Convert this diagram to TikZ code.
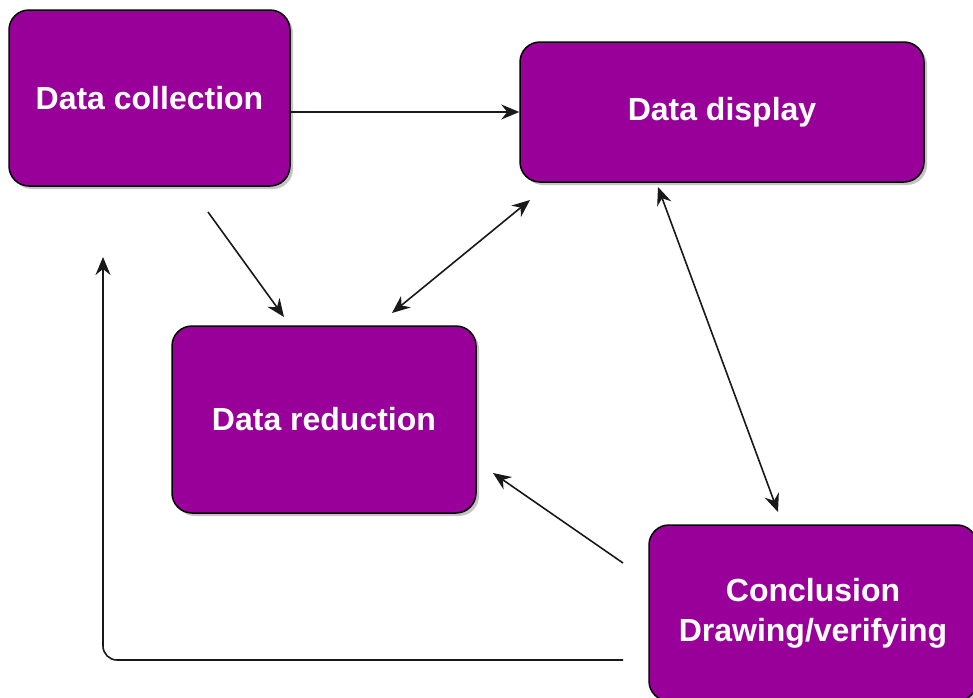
\documentclass[tikz,border=0pt]{standalone}
\usepackage{fontspec}
\setmainfont{Liberation Sans}
\usetikzlibrary{arrows.meta,shadows,calc}
\definecolor{procfill}{HTML}{990099}
\tikzset{
  procbox/.style={draw=black, line width=1.5pt, fill=procfill, rounded corners=20pt,
    text=white, font=\fontsize{32}{40}\selectfont\bfseries, align=center,
    inner sep=0pt,
    drop shadow={shadow xshift=3pt, shadow yshift=-3pt, fill=black!45, opacity=0.5}},
  tip/.tip={Stealth[length=18pt,width=15pt,inset=6pt]},
  flow/.style={draw=black!90, line width=1.6pt, -tip},
  bothway/.style={draw=black!90, line width=1.6pt, tip-tip}
}
\begin{document}
\begin{tikzpicture}[x=1pt,y=-1pt]
\useasboundingbox (0,0) rectangle (973,697);

% process boxes
\node[procbox, minimum width=281pt, minimum height=176pt] (coll) at (149.5,98) {Data collection};
\node[procbox, minimum width=404pt, minimum height=140pt] (disp) at (722,112) {Data display};
\node[procbox, minimum width=304pt, minimum height=187pt] (red) at (324,419.5) {Data reduction};
\node[procbox, minimum width=328pt, minimum height=176pt] (conc) at (813,613) {Conclusion\\Drawing/verifying};

% free ends of the connectors
\coordinate (collout) at (208,212);
\coordinate (redin) at (284,317);
\coordinate (reddisp) at (392,313);
\coordinate (dispred) at (530,200);
\coordinate (dispconc) at (658,187);
\coordinate (concdisp) at (778,512);
\coordinate (concout) at (623,563);
\coordinate (redback) at (493,473);
\coordinate (loopstart) at (623,660);
\coordinate (loopcorner) at (103,660);
\coordinate (loopend) at (103,257);

% connectors
\draw[flow] (coll.east |- disp.west) -- (disp.west);
\draw[flow] (collout) -- (redin);
\draw[bothway] (reddisp) -- (dispred);
\draw[bothway] (dispconc) -- (concdisp);
\draw[flow] (concout) -- (redback);
\draw[flow, rounded corners=14pt] (loopstart) -- (loopcorner) -- (loopend);
\end{tikzpicture}
\end{document}
